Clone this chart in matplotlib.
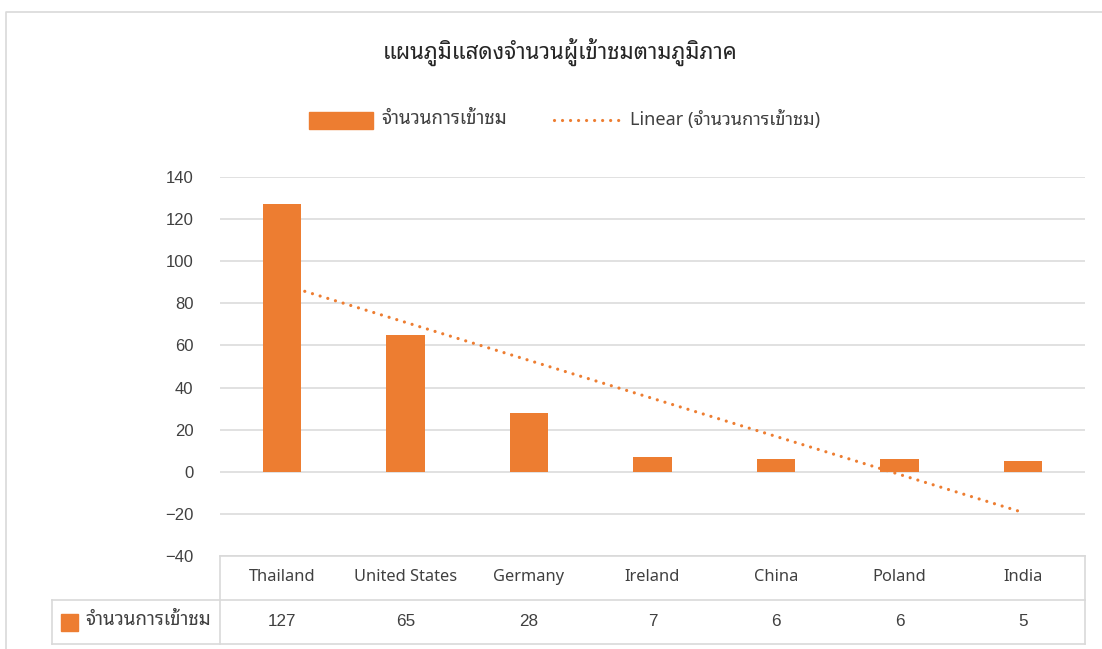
import numpy as np
import matplotlib
matplotlib.use("Agg")
import matplotlib.pyplot as plt
from matplotlib import font_manager as fm
from matplotlib.ft2font import FT2Font
from matplotlib.lines import Line2D
from matplotlib.patches import Rectangle
from matplotlib.transforms import blended_transform_factory

# ---------------- data ----------------
categories = ["Thailand", "United States", "Germany", "Ireland", "China", "Poland", "India"]
visitors = [127, 65, 28, 7, 6, 6, 5]
series_name = "จำนวนการเข้าชม"
trend_name = "Linear (จำนวนการเข้าชม)"
title_text = "แผนภูมิแสดงจำนวนผู้เข้าชมตามภูมิภาค"
y_ticks = [-40, -20, 0, 20, 40, 60, 80, 100, 120, 140]

# ---------------- fonts ----------------
def find_thai_family():
    cands = []
    for f in fm.fontManager.ttflist:
        try:
            cm = FT2Font(f.fname).get_charmap()
        except Exception:
            continue
        if 0x0E08 in cm and 0x0E33 in cm and 0x0E49 in cm:
            cands.append(f.name)
    if not cands:
        return None
    def score(n):
        s = 0
        if "Looped" in n: s -= 3
        if "Noto" in n: s -= 2
        if "Sans" in n: s -= 1
        return s
    cands = sorted(set(cands), key=lambda n: (score(n), n))
    return cands[0]

thai = find_thai_family()
thai_fam = [thai, "DejaVu Sans"] if thai else ["DejaVu Sans"]
num_fam = ["Liberation Sans", "DejaVu Sans"]

ORANGE = "#ED7D31"
GRID = "#D9D9D9"
TXT = "#404040"

W, H = 1102, 649
fig = plt.figure(figsize=(W / 100, H / 100), dpi=100)

def fx(px):
    return px / W

def fy(py):
    return 1 - py / H

ax = fig.add_axes([fx(220), fy(556), fx(1085) - fx(220), fy(177) - fy(556)])
x = np.arange(1, len(categories) + 1)

# bars
ax.bar(x, visitors, width=0.31, color=ORANGE, zorder=3)

# linear trend line fitted to the series
coef = np.polyfit(x, visitors, 1)
xt = np.array([x[0], x[-1]])
ax.plot(xt, np.polyval(coef, xt), color=ORANGE, lw=2.3,
        linestyle=(0, (0.01, 2.5)), dash_capstyle="round", zorder=2)

ax.set_xlim(0.5, len(categories) + 0.5)
ax.set_ylim(-40, 140)
ax.set_yticks(y_ticks)
ax.set_yticklabels([f"{v}".replace("-", "\u2212") for v in y_ticks],
                   fontfamily=num_fam, fontsize=12, color=TXT)
ax.tick_params(axis="y", length=0, pad=19)
ax.set_xticks([])
for s in ax.spines.values():
    s.set_visible(False)
ax.yaxis.grid(True, color=GRID, lw=1.1, zorder=0)
ax.set_axisbelow(True)

# data table
bt = blended_transform_factory(ax.transData, fig.transFigure)
for xi, cat, v in zip(x, categories, visitors):
    fig.text(xi, fy(577), cat, transform=bt, ha="center", va="center",
             fontsize=11.8, color=TXT, fontfamily=thai_fam)
    fig.text(xi, fy(621), str(v), transform=bt, ha="center", va="center",
             fontsize=12.3, color=TXT, fontfamily=num_fam)

def hline(x0, x1, y):
    fig.add_artist(Line2D([fx(x0), fx(x1)], [fy(y), fy(y)], color=GRID, lw=1.2,
                          transform=fig.transFigure))

def vline(xp, y0, y1):
    fig.add_artist(Line2D([fx(xp), fx(xp)], [fy(y0), fy(y1)], color=GRID, lw=1.2,
                          transform=fig.transFigure))

hline(220, 1085, 556)
hline(52, 1085, 600)
hline(52, 1085, 644)
vline(220, 556, 644)
vline(1085, 556, 644)
vline(52, 600, 644)

fig.add_artist(Rectangle((fx(61), fy(631)), fx(17), 17 / H, color=ORANGE,
                         transform=fig.transFigure))
fig.text(fx(85), fy(620), series_name, ha="left", va="center", fontsize=13.5,
         color=TXT, fontfamily=thai_fam)

# outer chart border
fig.add_artist(Line2D([fx(6), fx(6), fx(1102)], [fy(649), fy(12), fy(12)],
                      color=GRID, lw=1.2, transform=fig.transFigure))

# title
fig.text(fx(560), fy(52), title_text, ha="center", va="center", fontsize=16,
         color="#262626", fontfamily=thai_fam)

# legend
fig.add_artist(Rectangle((fx(309), fy(129)), fx(64), 17 / H, color=ORANGE,
                         transform=fig.transFigure))
fig.text(fx(381), fy(119), series_name, ha="left", va="center", fontsize=13.5,
         color=TXT, fontfamily=thai_fam)
fig.add_artist(Line2D([fx(554), fx(620)], [fy(120), fy(120)], color=ORANGE, lw=2.3,
                      linestyle=(0, (0.01, 2.5)), dash_capstyle="round",
                      transform=fig.transFigure))
fig.text(fx(630), fy(119), trend_name, ha="left", va="center", fontsize=13,
         color=TXT, fontfamily=thai_fam)

fig.savefig("out.png", dpi=100, facecolor="white")
